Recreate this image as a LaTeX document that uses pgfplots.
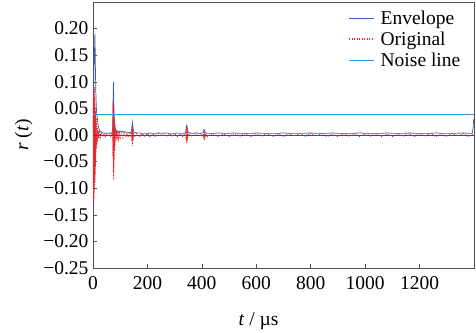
\documentclass[border=0pt]{standalone}
\usepackage{fontspec}
\setmainfont{Liberation Serif}
\usepackage{pgfplots}
\pgfplotsset{compat=1.18}
\definecolor{envc}{RGB}{58,95,176}
\definecolor{noisec}{RGB}{42,160,214}
\definecolor{origc}{RGB}{232,40,45}
\definecolor{framec}{RGB}{80,80,80}
\begin{document}
\begin{tikzpicture}
\begin{axis}[
  name=ax,
  scale only axis,
  width=381pt, height=266pt,
  xmin=0, xmax=1400, ymin=-0.25, ymax=0.25,
  xtick={0,200,400,600,800,1000,1200},
  xticklabels={0,200,400,600,800,1000,1200},
  ytick={-0.25,-0.20,-0.15,-0.10,-0.05,0,0.05,0.10,0.15,0.20},
  yticklabels={−0.25,−0.20,−0.15,−0.10,−0.05,0.00,0.05,0.10,0.15,0.20},
  tick align=inside, xtick pos=bottom, ytick pos=left,
  major tick length=4pt,
  tick style={framec, line width=0.5pt},
  axis line style={framec, line width=0.8pt},
  tick label style={font=\fontsize{19.5}{20}\selectfont},
  xticklabel style={yshift=-5pt},
  yticklabel style={xshift=-1pt},
  xlabel={\textit{t} / µs}, ylabel={\textit{r} (\textit{t})},
  label style={font=\fontsize{19.5}{20}\selectfont},
  xlabel style={xshift=-25pt, yshift=-16pt},
  ylabel style={yshift=4pt},
  legend style={draw=none, fill=none, at={(0.975,0.98)}, anchor=north east,
    font=\fontsize{19.5}{18}\selectfont, row sep=2pt, inner sep=1pt,
    nodes={inner xsep=3pt}},
  legend cell align=left,
  legend image code/.code={\draw[#1] (0pt,0pt) -- (25pt,0pt); \path (28pt,0pt);},
]
\addplot[envc, line width=0.7pt] coordinates {
(0,0.01)(1,0.04)(2,0.08)(3,0.11)(4,0.15)(5,0.13)(6,0.17)(7,0.19)(8,0.16)(9,0.12)(10,0.09)(11,0.07)(12,0.055)(13,0.045)(14,0.04)(16,0.032)(18,0.022)(20,0.015)(22,0.011)(25,0.008)(28,0.006)(32,0.005)(36,0.004)(40,0.004)(45,0.003)(50,0.004)(55,0.003)(60,0.003)(65,0.004)(70,0.003)(72,0.012)(73,0.035)(74,0.07)(75,0.10)(76,0.08)(77,0.05)(78,0.035)(79,0.025)(80,0.018)(82,0.012)(85,0.009)(88,0.008)(92,0.007)(96,0.006)(100,0.008)(105,0.006)(110,0.007)(115,0.005)(120,0.006)(125,0.005)(130,0.005)(135,0.004)(140,0.005)(142,0.01)(144,0.02)(145,0.024)(146,0.018)(148,0.01)(150,0.006)(155,0.005)(160,0.004)(170,0.004)(180,0.003)(190,0.003)(200,0.003)(210,0.004)(220,0.003)(230,0.003)(240,0.004)(250,0.003)(260,0.003)(270,0.004)(280,0.003)(290,0.003)(300,0.003)(310,0.004)(320,0.003)(330,0.003)(340,0.004)(342,0.012)(344,0.018)(346,0.016)(348,0.009)(350,0.005)(360,0.003)(370,0.003)(380,0.004)(390,0.003)(400,0.003)(406,0.006)(408,0.011)(410,0.009)(412,0.005)(420,0.003)(440,0.003)(460,0.004)(480,0.003)(500,0.003)(520,0.004)(540,0.003)(560,0.003)(580,0.003)(600,0.004)(620,0.003)(640,0.003)(660,0.003)(680,0.003)(700,0.004)(720,0.003)(740,0.003)(760,0.003)(780,0.003)(800,0.004)(820,0.003)(840,0.003)(860,0.003)(880,0.004)(900,0.003)(920,0.003)(940,0.003)(960,0.003)(980,0.004)(1000,0.003)(1020,0.003)(1040,0.003)(1060,0.003)(1080,0.004)(1100,0.003)(1120,0.003)(1140,0.003)(1160,0.004)(1180,0.003)(1200,0.003)(1220,0.003)(1240,0.003)(1260,0.004)(1280,0.003)(1300,0.003)(1320,0.003)(1340,0.003)(1360,0.004)(1380,0.003)(1394,0.003)(1397,0.015)(1399,0.03)
};
\addlegendentry{Envelope}
\addplot[color=origc, line width=1pt, dash pattern=on 1pt off 1.5pt, forget plot] coordinates {
(0,0)(1,0.07)(1.5,-0.1)(2,0.08)(2.5,-0.13)(3,0.09)(3.5,-0.12)(4,0.085)(4.5,-0.11)(5,0.09)(5.5,-0.1)(6,0.07)(6.5,-0.09)(7,0.06)(7.5,-0.075)(8,0.05)(8.5,-0.06)(9,0.045)(9.5,-0.05)(10,0.04)(11,-0.035)(12,0.03)(13,-0.025)(14,0.02)(15,-0.016)(16,0.013)(17,-0.01)(19,0.008)(21,-0.006)(24,0.005)(27,-0.004)(30,0.004)(35,-0.003)(40,0.003)(45,-0.003)(50,0.002)(55,-0.003)(60,0.003)(65,-0.002)(70,0.003)(72,-0.01)(73,0.03)(73.5,-0.04)(74,0.06)(74.5,-0.07)(75,0.06)(75.5,-0.085)(76,0.05)(76.5,-0.06)(77,0.04)(77.5,-0.045)(78,0.03)(79,-0.03)(80,0.02)(81,-0.018)(82,0.012)(84,-0.01)(86,0.008)(88,-0.008)(91,0.007)(94,-0.006)(97,0.006)(100,-0.005)(105,0.006)(110,-0.005)(115,0.004)(120,-0.004)(125,0.004)(130,-0.004)(135,0.003)(140,-0.004)(142,0.008)(143,-0.012)(144,0.016)(145,-0.02)(146,0.014)(147,-0.01)(149,0.005)(152,-0.004)(160,0.003)(170,-0.003)(180,0.003)(190,-0.002)(200,0.003)(210,-0.003)(220,0.002)(230,-0.003)(240,0.003)(250,-0.002)(260,0.003)(270,-0.003)(280,0.003)(290,-0.002)(300,0.003)(310,-0.003)(320,0.002)(330,-0.003)(340,0.004)(342,-0.01)(343,0.014)(344,-0.016)(345,0.014)(346,-0.012)(347,0.008)(349,-0.004)(355,0.003)(365,-0.003)(375,0.003)(385,-0.002)(395,0.003)(405,-0.004)(408,0.008)(409,-0.01)(410,0.009)(411,-0.006)(413,0.003)(420,-0.003)(440,0.003)(460,-0.003)(480,0.002)(500,-0.003)(520,0.003)(540,-0.002)(560,0.003)(580,-0.003)(600,0.003)(620,-0.002)(640,0.003)(660,-0.003)(680,0.002)(700,-0.003)(720,0.003)(740,-0.002)(760,0.003)(780,-0.003)(800,0.003)(820,-0.002)(840,0.003)(860,-0.003)(880,0.002)(900,-0.003)(920,0.003)(940,-0.002)(960,0.003)(980,-0.003)(1000,0.003)(1020,-0.002)(1040,0.003)(1060,-0.003)(1080,0.002)(1100,-0.003)(1120,0.003)(1140,-0.002)(1160,0.003)(1180,-0.003)(1200,0.003)(1220,-0.002)(1240,0.003)(1260,-0.003)(1280,0.002)(1300,-0.003)(1320,0.003)(1340,-0.002)(1360,0.003)(1380,-0.003)(1399,0.002)
};
\addlegendimage{color=origc, line width=1.2pt, dash pattern=on 1.2pt off 1.3pt}
\addlegendentry{Original}
\addplot[noisec, line width=0.7pt] coordinates {(0,0.038)(1400,0.038)};
\addlegendentry{Noise line}
\addplot[black!70, line width=0.5pt, forget plot] coordinates {(0,0)(1400,0)};
\end{axis}
\pgfresetboundingbox
\path[use as bounding box] ([xshift=-93pt,yshift=-65pt]ax.south west) rectangle ([xshift=2pt,yshift=2pt]ax.north east);
\end{tikzpicture}
\end{document}
